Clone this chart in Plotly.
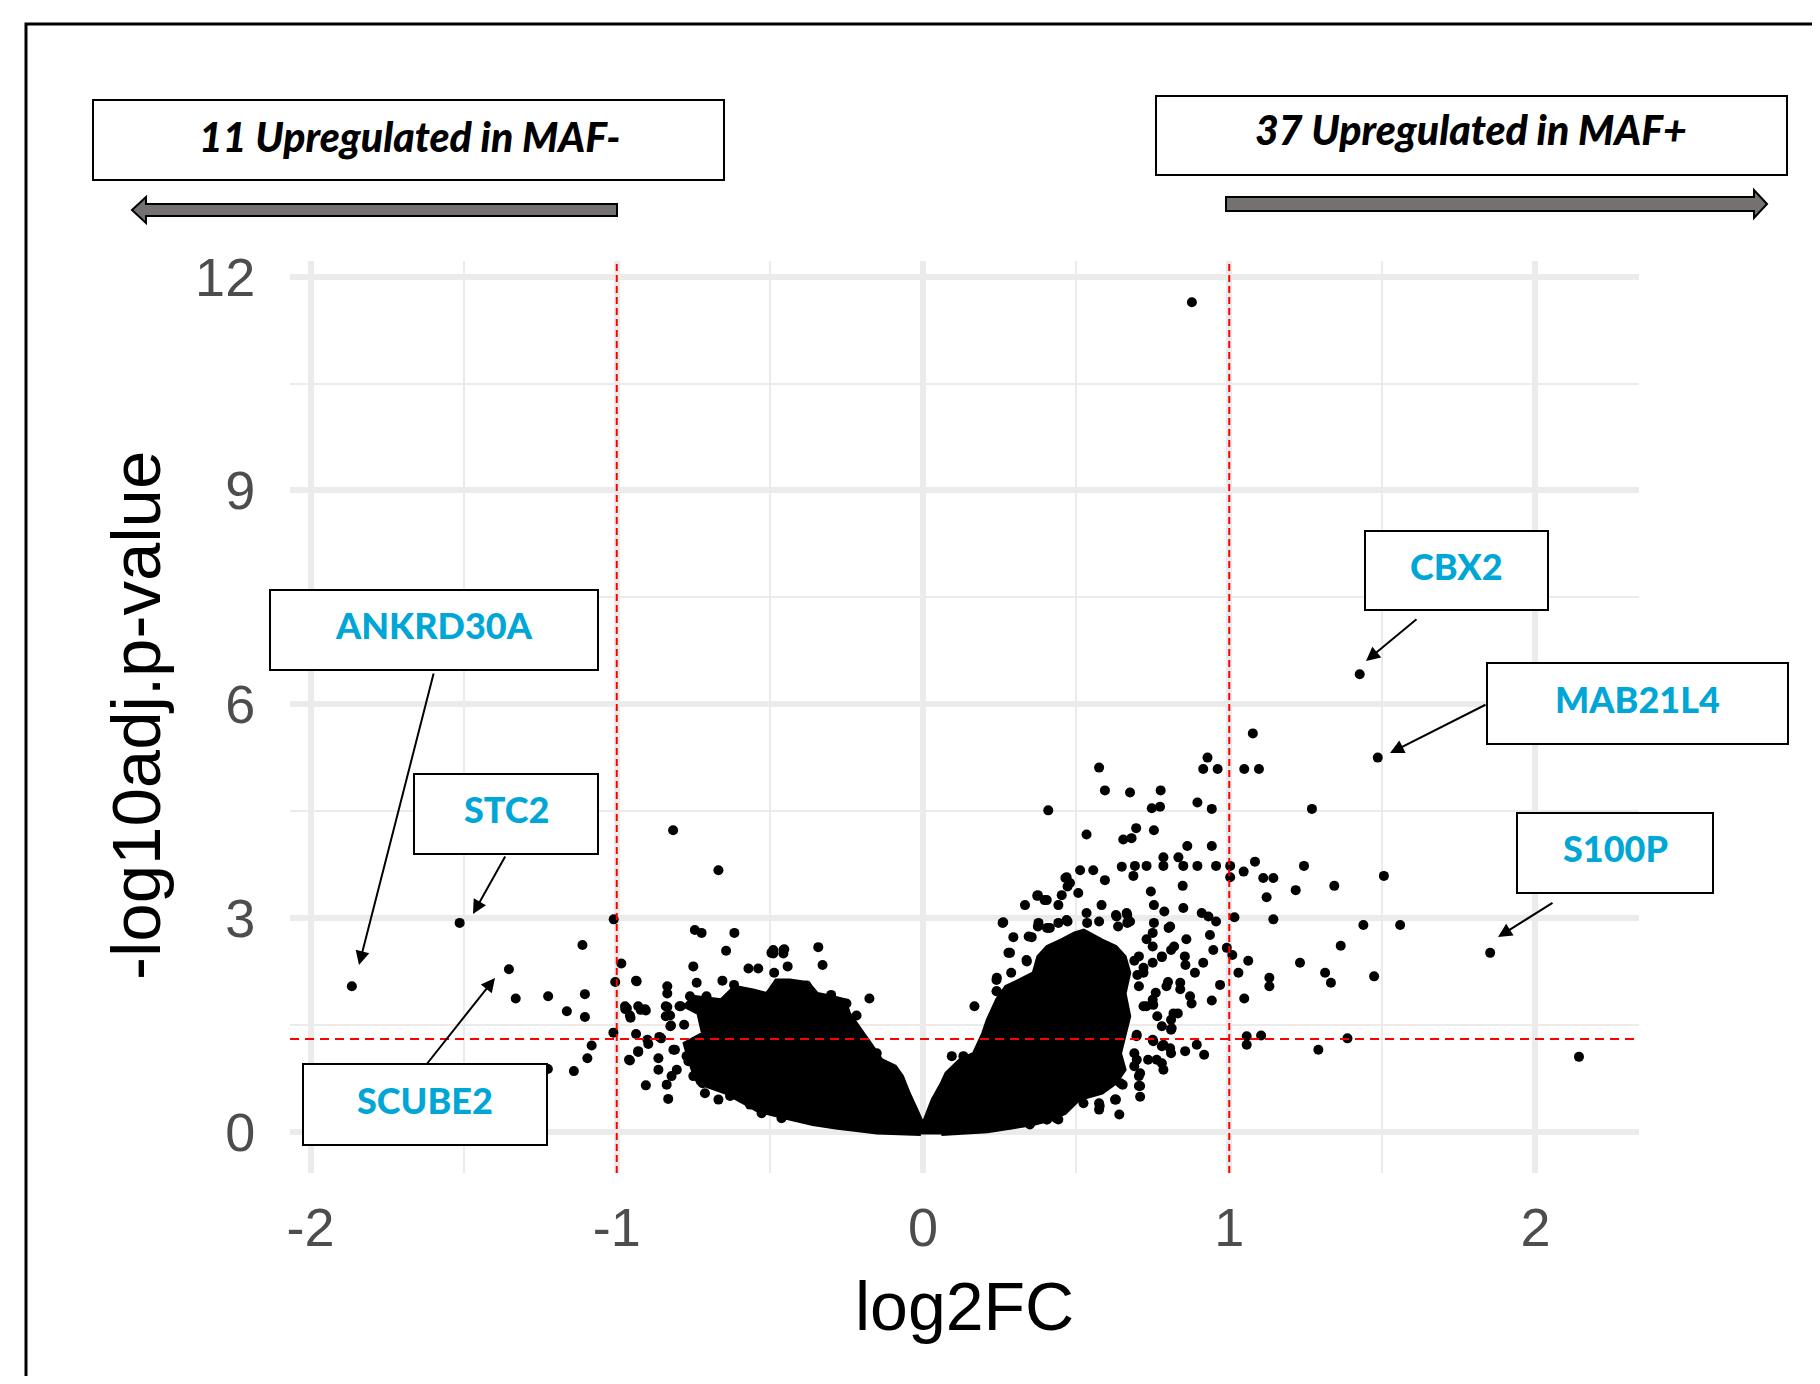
import plotly.graph_objects as go

# ---- data ----
# dense core of the volcano cloud (outline of the solid black region)
core_x = [-0.007, -0.150, -0.285, -0.360, -0.450, -0.540, -0.585, -0.645, -0.735, -0.750,
          -0.765, -0.780, -0.720, -0.735, -0.780, -0.750, -0.660, -0.615, -0.555, -0.510,
          -0.480, -0.435, -0.375, -0.345, -0.300, -0.255, -0.240, -0.210, -0.165, -0.135,
          -0.090, -0.067, -0.045, -0.015, -0.003, 0.002,
          0.030, 0.060, 0.075, 0.120, 0.165, 0.195, 0.210, 0.240, 0.270, 0.315,
          0.360, 0.375, 0.405, 0.450, 0.495, 0.525, 0.585, 0.630, 0.660, 0.675,
          0.660, 0.675, 0.660, 0.645, 0.660, 0.630, 0.585, 0.510, 0.465, 0.420,
          0.360, 0.285, 0.210, 0.060]
core_y = [-0.04, -0.02, 0.05, 0.10, 0.19, 0.29, 0.40, 0.54, 0.68, 0.82,
          1.01, 1.24, 1.38, 1.66, 1.76, 1.90, 1.85, 2.04, 1.99, 1.94,
          2.13, 2.13, 2.09, 1.94, 1.90, 1.85, 1.66, 1.48, 1.20, 1.01,
          0.92, 0.78, 0.54, 0.26, 0.14, 0.14,
          0.45, 0.68, 0.82, 1.01, 1.10, 1.38, 1.57, 1.85, 2.04, 2.13,
          2.23, 2.46, 2.60, 2.69, 2.79, 2.83, 2.69, 2.60, 2.46, 2.23,
          1.94, 1.62, 1.34, 1.10, 0.87, 0.68, 0.54, 0.45, 0.26, 0.17,
          0.10, 0.05, 0.00, -0.04]

# individual genes with log2FC < 0 outside the dense core
left_x = [-1.865, -1.513, -1.352, -1.330, -1.224, -1.225, -1.140, -1.104, -1.163, -1.104,
          -1.112, -1.096, -1.082, -1.010, -1.005, -0.985, -1.011, -0.935, -0.937, -0.957,
          -0.930, -0.897, -0.861, -0.864, -0.864, -0.905, -0.832, -0.837, -0.821, -0.804,
          -0.815, -0.972, -0.955, -0.908, -0.937, -0.973, -0.957, -0.930, -0.905, -0.835,
          -0.835, -0.835, -0.826, -0.823, -0.791, -0.761, -0.707, -0.816, -0.668, -0.745,
          -0.723, -0.616, -0.643, -0.750, -0.739, -0.655, -0.617, -0.489, -0.456, -0.489,
          -0.456, -0.342, -0.328, -0.570, -0.538, -0.486, -0.442, -0.175, -0.217, -0.151,
          -0.772, -0.766, -0.712, -0.668, -0.630, -0.565, -0.527, -0.462, -0.780, -0.700,
          -0.740, -0.680, -0.600, -0.380, -0.300, -0.250, -0.495, -0.453, -0.967, -0.922,
          -0.840, -0.840, -0.825, -0.795, -0.750, -0.900, -0.855, -0.960, -0.930, -0.810,
          -0.750, -0.720, -0.690, -0.645, -0.690, -0.630]
left_y = [2.04, 2.93, 2.28, 1.87, 1.90, 0.88, 0.85, 1.93, 1.69, 1.61,
          2.62, 1.03, 1.21, 2.98, 2.10, 2.36, 1.39, 2.11, 1.37, 1.00,
          1.12, 1.23, 1.33, 1.03, 0.87, 0.65, 0.46, 0.66, 0.78, 0.87,
          1.15, 1.72, 1.60, 1.72, 2.12, 1.76, 1.63, 1.76, 1.70, 2.04,
          1.94, 1.75, 1.63, 1.49, 1.76, 1.90, 1.90, 4.23, 3.67, 2.83,
          2.79, 2.79, 2.54, 2.32, 2.09, 2.12, 2.06, 2.55, 2.55, 2.50,
          2.50, 2.59, 2.34, 2.29, 2.29, 2.23, 2.32, 1.87, 1.63, 1.10,
          1.06, 0.99, 0.54, 0.45, 0.50, 0.38, 0.26, 0.19, 1.50, 1.40,
          1.25, 1.80, 1.95, 2.05, 1.92, 1.80, 2.51, 2.56, 1.73, 1.71,
          1.76, 1.62, 1.48, 1.76, 1.80, 1.29, 1.31, 1.01, 1.13, 1.15,
          0.78, 0.68, 0.96, 1.10, 1.29, 1.38]

# individual genes with log2FC > 0 outside the dense core
right_x = [0.878, 1.426, 1.485, 1.852, 2.142, 1.077, 0.929, 0.915, 0.962, 1.049,
           1.097, 0.575, 0.409, 0.594, 0.676, 0.776, 0.747, 0.774, 0.896, 0.943,
           1.270, 0.534, 0.696, 0.754, 0.654, 0.681, 0.863, 0.943, 1.084, 1.244,
           1.505, 0.513, 0.556, 0.594, 0.649, 0.692, 0.730, 0.687, 0.785, 0.834,
           0.785, 0.850, 0.896, 0.957, 1.003, 1.003, 1.047, 1.111, 1.144, 0.848,
           0.744, 1.122, 1.217, 1.343, 0.469, 0.480, 0.507, 0.453, 0.373, 0.404,
           0.333, 0.442, 0.583, 0.754, 0.788, 0.850, 0.910, 0.932, 0.957, 1.017,
           1.144, 1.438, 1.558, 0.262, 0.295, 0.355, 0.377, 0.414, 0.469, 0.534,
           0.536, 0.575, 0.632, 0.665, 0.676, 0.754, 0.807, 0.937, 0.948, 0.992,
           1.010, 1.062, 1.364, 0.284, 0.338, 0.857, 0.888, 0.915, 1.231, 1.030,
           1.131, 1.131, 1.313, 1.332, 1.473, 0.970, 0.943, 1.049, 0.872, 0.877,
           0.818, 0.812, 0.730, 0.752, 1.057, 1.057, 1.104, 1.386, 1.291, 0.856,
           0.894, 0.918, 0.698, 0.752, 0.785, 0.807, 0.763, 0.785, 0.698, 0.709,
           0.709, 0.709, 0.652, 0.641, 0.627, 0.575, 0.575, 0.524, 0.404, 0.442,
           0.349, 0.284, 0.720, 0.780, 0.800, 0.700, 0.760, 0.840, 0.820, 0.730,
           0.690, 0.860, 0.094, 0.132, 0.168, 0.260, 0.279, 0.339, 0.241, 0.241,
           0.465, 0.472, 0.375, 0.397, 0.375, 0.405, 0.442, 0.472, 0.630, 0.667,
           0.667, 0.637, 0.802, 0.750, 0.345, 0.288, 0.240, 0.240, 0.832, 0.810,
           0.765, 0.780, 0.810, 0.720, 0.750, 0.795, 0.840, 0.705, 0.720, 0.750,
           0.780, 0.705, 0.750, 0.810, 0.855, 0.697, 0.750, 0.780, 0.810, 0.690,
           0.690, 0.705, 0.705, 0.735, 0.780, 0.645, 0.630, 0.577, 0.405, 0.435]
right_y = [11.64, 6.42, 5.25, 2.51, 1.05, 5.59, 5.25, 5.09, 5.09, 5.09,
           5.09, 5.11, 4.51, 4.79, 4.76, 4.79, 4.54, 4.56, 4.62, 4.53,
           4.53, 4.17, 4.26, 4.23, 4.10, 4.12, 4.01, 4.01, 3.79, 3.73,
           3.59, 3.67, 3.67, 3.53, 3.72, 3.73, 3.73, 3.59, 3.85, 3.85,
           3.73, 3.73, 3.73, 3.73, 3.73, 3.57, 3.65, 3.56, 3.56, 3.45,
           3.37, 3.29, 3.39, 3.45, 3.57, 3.49, 3.35, 3.32, 3.31, 3.25,
           3.18, 3.18, 3.18, 3.18, 3.09, 3.14, 3.07, 3.02, 2.95, 3.01,
           2.98, 2.90, 2.90, 2.94, 2.73, 2.73, 2.93, 2.86, 2.97, 3.07,
           2.93, 2.95, 3.02, 3.07, 2.95, 2.93, 2.88, 2.76, 2.55, 2.58,
           2.48, 2.40, 2.61, 2.51, 2.41, 2.34, 2.23, 2.37, 2.37, 2.23,
           2.16, 2.04, 2.23, 2.09, 2.18, 2.06, 1.84, 1.87, 1.90, 1.80,
           1.66, 1.45, 1.76, 1.78, 1.34, 1.22, 1.35, 1.31, 1.15, 1.13,
           1.22, 1.08, 1.36, 1.27, 1.22, 1.17, 1.01, 0.87, 1.01, 0.82,
           0.64, 0.49, 0.66, 0.24, 0.45, 0.40, 0.31, 0.40, 0.17, 0.17,
           0.10, 0.10, 2.30, 2.45, 2.10, 2.20, 1.95, 2.00, 2.60, 2.70,
           2.40, 2.70, 1.06, 1.06, 1.76, 2.93, 2.51, 2.39, 2.16, 1.97,
           3.56, 3.44, 3.32, 3.25, 2.88, 2.86, 2.93, 2.95, 3.04, 3.04,
           2.93, 2.88, 2.86, 2.79, 2.74, 2.23, 2.13, 1.97, 1.66, 1.57,
           1.62, 1.48, 1.43, 1.76, 1.85, 2.04, 2.09, 2.04, 2.23, 2.37,
           2.46, 2.46, 2.60, 2.55, 2.46, 1.34, 1.29, 1.20, 1.10, 1.10,
           0.92, 0.78, 0.64, 1.01, 0.96, 0.68, 0.45, 0.36, 0.17, 0.19]

fc_cut = [-1, 1]
p_cut = 1.3

x_ticks = [-2, -1, 0, 1, 2]
y_ticks = [0, 3, 6, 9, 12]

n_down, n_up = 11, 37
label_genes = ["ANKRD30A", "STC2", "SCUBE2", "CBX2", "MAB21L4", "S100P"]

# ---- layout helpers (page pixel -> paper); page body has an 8px margin ----
BODY = 8
W, H = 1820 - 2 * BODY, 1384 - 2 * BODY
PX0, PX1, PY0, PY1 = 290, 1639, 261, 1173


def px(x):
    return (x - PX0) / (PX1 - PX0)


def py(y):
    return (PY1 - y) / (PY1 - PY0)


fig = go.Figure()

fig.add_trace(go.Scatter(x=core_x, y=core_y, mode="lines", fill="toself",
                         fillcolor="black", line=dict(color="black", width=3),
                         hoverinfo="skip", showlegend=False))
fig.add_trace(go.Scatter(x=left_x + right_x, y=left_y + right_y, mode="markers",
                         marker=dict(color="black", size=10),
                         showlegend=False))

shapes = []
# cut-off lines
for v in fc_cut:
    shapes.append(dict(type="line", xref="x", yref="paper", x0=v, x1=v, y0=0, y1=1,
                       line=dict(color="#FF0000", width=2, dash="7px,4px"), layer="above"))
shapes.append(dict(type="line", xref="paper", yref="y", x0=0, x1=1, y0=p_cut, y1=p_cut,
                   line=dict(color="#FF0000", width=2, dash="9px,6px"), layer="above"))

# outer frame (clipped at the right and bottom like the reference)
shapes.append(dict(type="rect", xref="paper", yref="paper",
                   x0=px(26), x1=px(1900), y0=py(1450), y1=py(24),
                   line=dict(color="black", width=3), fillcolor="rgba(0,0,0,0)"))


def box(x0, x1, y0, y1, lw=2):
    return dict(type="rect", xref="paper", yref="paper",
                x0=px(x0), x1=px(x1), y0=py(y1), y1=py(y0),
                line=dict(color="black", width=lw), fillcolor="white", layer="above")


def block_arrow(pts):
    d = "M " + " L ".join(f"{px(a):.5f},{py(b):.5f}" for a, b in pts) + " Z"
    return dict(type="path", xref="paper", yref="paper", path=d,
                fillcolor="#767171", line=dict(color="black", width=2), layer="above")


shapes.append(box(93, 724, 100, 180))
shapes.append(box(1156, 1787, 96, 175))
shapes.append(block_arrow([(132, 210), (146, 197), (146, 204), (617, 204),
                           (617, 216), (146, 216), (146, 223)]))
shapes.append(block_arrow([(1767, 204), (1754, 190), (1754, 197), (1226, 197),
                           (1226, 211), (1754, 211), (1754, 218)]))

# gene label boxes: (x0, x1, y0, y1) and arrow (tail, tip) in page pixels
label_boxes = [(270, 598, 590, 670), (414, 598, 774, 854), (303, 547, 1064, 1145),
               (1365, 1548, 531, 610), (1487, 1788, 663, 744), (1517, 1713, 813, 893)]
label_arrows = [((434, 672), (359, 965)), ((506, 855), (473, 914)),
                ((426, 1065), (495, 978)), ((1418, 618), (1366, 661)),
                ((1487, 704), (1390, 753)), ((1554, 902), (1498, 937))]

annotations = []
for name, (x0, x1, y0, y1), (tail, tip) in zip(label_genes, label_boxes, label_arrows):
    shapes.append(box(x0, x1, y0, y1))
    annotations.append(dict(xref="paper", yref="paper", x=px((x0 + x1) / 2), y=py((y0 + y1) / 2 - 5),
                            text=name, showarrow=False, xanchor="center", yanchor="middle",
                            font=dict(family="Lato, Open Sans, sans-serif", size=36,
                                      color="#00A6D6", weight=900)))
    annotations.append(dict(xref="paper", yref="paper", x=px(tip[0]), y=py(tip[1]),
                            ax=tail[0] - tip[0], ay=tail[1] - tip[1], axref="pixel", ayref="pixel",
                            text="", showarrow=True, arrowhead=2, arrowsize=1.4,
                            arrowwidth=2, arrowcolor="black", standoff=0, startstandoff=0))

for txt, cx, cy in [(f"{n_down} Upregulated in MAF-", 409, 136),
                    (f"{n_up} Upregulated in MAF+", 1471, 130)]:
    annotations.append(dict(xref="paper", yref="paper", x=px(cx), y=py(cy), text=txt,
                            showarrow=False, xanchor="center", yanchor="middle",
                            font=dict(family="Lato, Open Sans, sans-serif", size=41,
                                      color="black", weight=900, style="italic")))

# axis titles
annotations.append(dict(xref="paper", yref="paper", x=px(964), y=py(1306), text="log2FC",
                        showarrow=False, xanchor="center", yanchor="middle",
                        font=dict(family="Liberation Sans, Arial", size=68, color="black")))
annotations.append(dict(xref="paper", yref="paper", x=px(136), y=py(716), text="-log10adj.p-value",
                        showarrow=False, xanchor="center", yanchor="middle", textangle=-90,
                        font=dict(family="Liberation Sans, Arial", size=69, color="black")))

tick_font = dict(family="Liberation Sans, Arial", size=54, color="#4D4D4D")
grid = "#EBEBEB"

fig.update_layout(
    width=W, height=H,
    margin=dict(l=PX0 - BODY, r=W + BODY - PX1, t=PY0 - BODY, b=H + BODY - PY1),
    paper_bgcolor="white", plot_bgcolor="white",
    shapes=shapes, annotations=annotations,
    xaxis=dict(range=[-2.067, 2.338], tickvals=x_ticks, ticktext=[str(t) for t in x_ticks],
               showgrid=True, gridcolor=grid, gridwidth=6, zeroline=False,
               ticks="outside", ticklen=7, tickcolor="rgba(0,0,0,0)", tickfont=tick_font,
               minor=dict(dtick=0.5, tick0=0, showgrid=True, gridcolor=grid, gridwidth=2)),
    yaxis=dict(range=[-0.58, 12.22], tickvals=y_ticks, ticktext=[str(t) for t in y_ticks],
               showgrid=True, gridcolor=grid, gridwidth=6, zeroline=False,
               ticks="outside", ticklen=23, tickcolor="rgba(0,0,0,0)", tickfont=tick_font,
               minor=dict(dtick=1.5, tick0=0, showgrid=True, gridcolor=grid, gridwidth=2)),
)

fig.write_html("out.html")
